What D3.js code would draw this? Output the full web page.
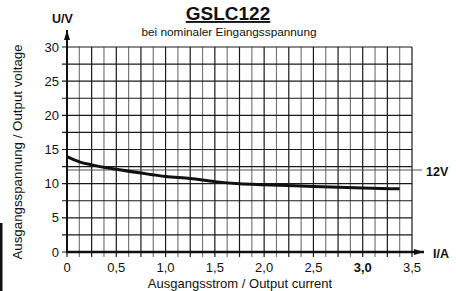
<!DOCTYPE html>
<html>
<head>
<meta charset="utf-8">
<script src="https://cdn.jsdelivr.net/npm/d3@7"></script>
<style>
  body { margin: 0; background: #fff; }
  text { font-family: "Liberation Sans", Arial, sans-serif; fill: #111; }
</style>
</head>
<body>
<script>
// curve
const current = [0, 0.125, 0.25, 0.5, 0.75, 1.0, 1.25, 1.5, 1.75, 2.0, 2.5, 3.0, 3.375];
const voltage = [13.95, 13.2, 12.75, 12.1, 11.55, 11.05, 10.75, 10.3, 10.0, 9.85, 9.6, 9.35, 9.25];

const xTicks = [0, 0.5, 1.0, 1.5, 2.0, 2.5, 3.0, 3.5];
const xTickLabels = ["0", "0,5", "1,0", "1,5", "2,0", "2,5", "3,0", "3,5"];
const yTicks = [0, 5, 10, 15, 20, 25, 30];
const nominalV = 12;

const w = 456, h = 291;

const x = d3.scaleLinear().domain([0, 3.5]).range([67, 412]);
const y = d3.scaleLinear().domain([0, 30]).range([252, 47]);

const svg = d3.select("body").append("svg")
    .attr("width", w)
    .attr("height", h);

// arrow marker
svg.append("defs").append("marker")
    .attr("id", "arrow")
    .attr("viewBox", "0 0 10 6")
    .attr("refX", 10).attr("refY", 3)
    .attr("markerWidth", 10).attr("markerHeight", 6)
    .attr("markerUnits", "userSpaceOnUse")
    .attr("orient", "auto")
    .append("path").attr("d", "M0,0 L10,3 L0,6 Z").attr("fill", "#111");

// vertical grid lines every 0.125 A (odd ones grey)
const vLines = d3.range(0, 29).map(i => i * 0.125);
svg.selectAll(".vgrid")
    .data(vLines)
    .enter().append("line")
    .attr("class", "vgrid")
    .attr("x1", d => x(d)).attr("x2", d => x(d))
    .attr("y1", y(30)).attr("y2", y(0) + 5)
    .attr("stroke", (d, i) => i % 2 ? "#7a7a7a" : "#1a1a1a")
    .attr("stroke-width", 1.2);

// horizontal grid lines every 2.5 V
const hLines = d3.range(0, 13).map(i => i * 2.5);
svg.selectAll(".hgrid")
    .data(hLines)
    .enter().append("line")
    .attr("class", "hgrid")
    .attr("x1", x(0) - 5).attr("x2", x(3.5))
    .attr("y1", d => y(d)).attr("y2", d => y(d))
    .attr("stroke", "#1a1a1a")
    .attr("stroke-width", 1.2);

// 12V reference line
svg.append("line")
    .attr("x1", x(0)).attr("x2", x(3.5) + 10)
    .attr("y1", y(nominalV)).attr("y2", y(nominalV))
    .attr("stroke", "#555")
    .attr("stroke-width", 1.2);

svg.append("text")
    .attr("x", 426).attr("y", y(nominalV) + 6)
    .attr("font-size", 12.5).attr("font-weight", "bold")
    .text("12V");

// axes
svg.append("line")
    .attr("x1", x(0)).attr("x2", x(0))
    .attr("y1", y(0) + 1).attr("y2", 30)
    .attr("stroke", "#111").attr("stroke-width", 2)
    .attr("marker-end", "url(#arrow)");

svg.append("line")
    .attr("x1", x(0) - 1).attr("x2", 424)
    .attr("y1", y(0)).attr("y2", y(0))
    .attr("stroke", "#111").attr("stroke-width", 2.6)
    .attr("marker-end", "url(#arrow)");

// y tick labels
svg.selectAll(".ylab")
    .data(yTicks)
    .enter().append("text")
    .attr("class", "ylab")
    .attr("x", 59).attr("y", d => y(d) + 4.5)
    .attr("text-anchor", "end")
    .attr("font-size", 13)
    .text(d => d);

// x tick labels
svg.selectAll(".xlab")
    .data(xTicks)
    .enter().append("text")
    .attr("class", "xlab")
    .attr("x", d => x(d)).attr("y", 272)
    .attr("text-anchor", "middle")
    .attr("font-size", 13)
    .attr("font-weight", d => d === 3.0 ? "bold" : "normal")
    .text((d, i) => xTickLabels[i]);

// curve
const line = d3.line()
    .x(d => x(d[0]))
    .y(d => y(d[1]))
    .curve(d3.curveMonotoneX);

svg.append("path")
    .datum(current.map((c, i) => [c, voltage[i]]))
    .attr("d", line)
    .attr("fill", "none")
    .attr("stroke", "#111")
    .attr("stroke-width", 3);

// titles
svg.append("text")
    .attr("x", 228).attr("y", 20)
    .attr("text-anchor", "middle")
    .attr("font-size", 19).attr("font-weight", "bold")
    .attr("text-decoration", "underline")
    .text("GSLC122");

svg.append("text")
    .attr("x", 229).attr("y", 36)
    .attr("text-anchor", "middle")
    .attr("font-size", 11.8)
    .text("bei nominaler Eingangsspannung");

svg.append("text")
    .attr("x", 52).attr("y", 23)
    .attr("font-size", 12.5).attr("font-weight", "bold")
    .text("U/V");

svg.append("text")
    .attr("x", 433).attr("y", 258)
    .attr("font-size", 12.5).attr("font-weight", "bold")
    .text("I/A");

svg.append("text")
    .attr("x", 240).attr("y", 288)
    .attr("text-anchor", "middle")
    .attr("font-size", 13)
    .text("Ausgangsstrom / Output current");

svg.append("text")
    .attr("transform", "translate(22,152) rotate(-90)")
    .attr("text-anchor", "middle")
    .attr("font-size", 13.3)
    .text("Ausgangsspannung / Output voltage");

// black bar at the left edge
svg.append("rect")
    .attr("x", 0).attr("y", 223)
    .attr("width", 2.5).attr("height", h - 223)
    .attr("fill", "#111");
</script>
</body>
</html>
